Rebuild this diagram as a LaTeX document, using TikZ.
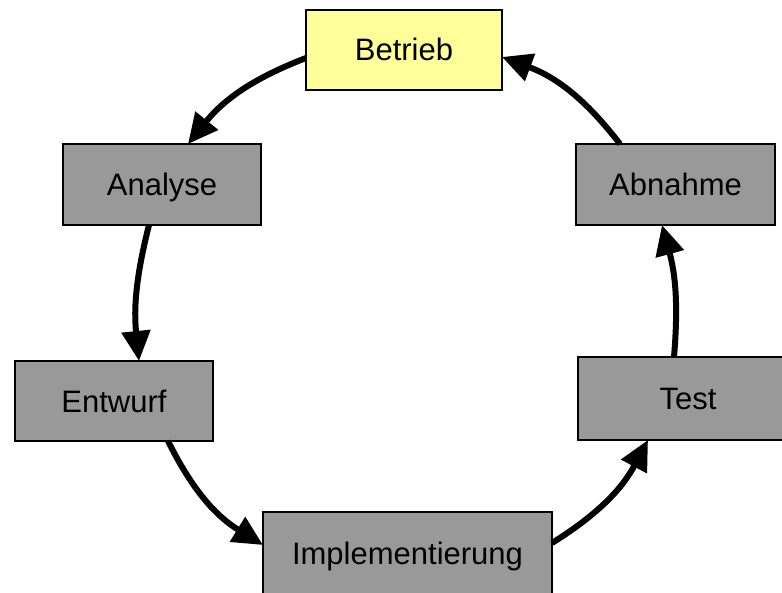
\documentclass[tikz,border=0pt]{standalone}
\usepackage{fontspec}
\setmainfont{Liberation Sans}
\usetikzlibrary{arrows.meta}
\definecolor{boxgray}{HTML}{999999}
\definecolor{boxyellow}{HTML}{FFFF99}
\begin{document}
\begin{tikzpicture}[x=0.5pt,y=-0.5pt,
  stage/.style={draw=black, line width=1pt, fill=boxgray, inner sep=0pt, outer sep=0pt,
    text height=11pt, text depth=0pt,
    font=\fontsize{15.5}{18}\selectfont},
  flow/.style={-{Triangle[length=15pt,width=14pt]}, line width=3pt}]
\clip (0,0) rectangle (782,593);
\node[stage, fill=boxyellow, minimum width=98pt, minimum height=40pt] (betrieb) at (404,50) {Betrieb};
\node[stage, minimum width=99pt, minimum height=40.5pt] (analyse) at (162,184.5) {Analyse};
\node[stage, minimum width=99.5pt, minimum height=40.5pt] (abnahme) at (675.5,184.5) {Abnahme};
\node[stage, minimum width=99pt, minimum height=40pt] (entwurf) at (114,401) {Entwurf};
\node[stage, minimum width=110pt, minimum height=41.5pt] (test) at (688,398.5) {Test};
\node[stage, minimum width=144.5pt, minimum height=41pt] (impl) at (407.5,553) {Implementierung};
\draw[flow] ([yshift=-4pt]betrieb.west) to[bend right=15] ([xshift=13pt]analyse.north);
\draw[flow] ([xshift=-6.5pt]analyse.south) to[bend right=10] ([xshift=12.5pt]entwurf.north);
\draw[flow] ([xshift=27pt]entwurf.south) to[bend right=16] ([yshift=4pt]impl.west);
\draw[flow] ([yshift=5pt]impl.east) to[bend right=15] ([xshift=-20pt]test.south);
\draw[flow] ([xshift=-7pt]test.north) to[bend right=10] ([xshift=-6.75pt]abnahme.south);
\draw[flow] ([xshift=-27.75pt]abnahme.north) to[bend right=16] ([yshift=-3.5pt]betrieb.east);
\end{tikzpicture}
\end{document}
